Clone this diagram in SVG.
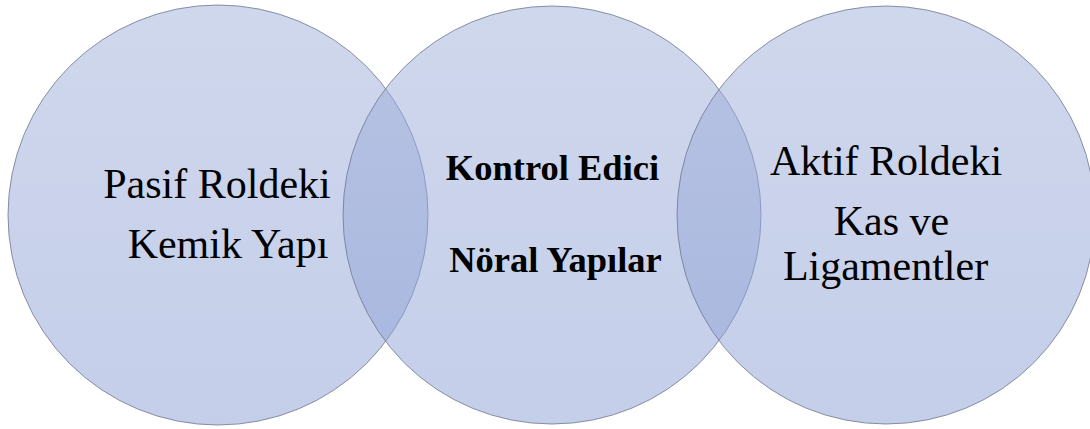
<svg xmlns="http://www.w3.org/2000/svg" width="1090" height="429" viewBox="0 0 1090 429">
<defs>
<linearGradient id="g" x1="0" y1="0" x2="0" y2="1">
<stop offset="0" stop-color="rgb(160,176,218)"/>
<stop offset="1" stop-color="rgb(138,158,212)"/>
</linearGradient>
<style>
.c{fill:url(#g);fill-opacity:0.5;stroke:#6f7890;stroke-opacity:0.8;stroke-width:1}
.t{font-family:'Liberation Serif','Times New Roman',Tinos,'DejaVu Serif',serif;font-size:42px;fill:#000;text-anchor:middle}
.b{font-family:'Liberation Serif','Times New Roman',Tinos,'DejaVu Serif',serif;font-size:36.5px;font-weight:bold;fill:#000;text-anchor:middle}
</style>
</defs>
<rect width="1090" height="429" fill="#fff"/>
<g id="left"><circle class="c" cx="218" cy="215" r="210"/></g>
<g id="middle"><circle class="c" cx="552" cy="215" r="209"/></g>
<g id="right"><circle class="c" cx="886" cy="215" r="209"/></g>
<g id="connectors"></g>
<g id="left-label">
<text class="t" x="217" y="198">Pasif Roldeki</text>
<text class="t" x="228" y="258">Kemik Yapı</text>
</g>
<g id="middle-label">
<text class="b" x="552.5" y="180">Kontrol Edici</text>
<text class="b" x="555.5" y="272">Nöral Yapılar</text>
</g>
<g id="right-label">
<text class="t" x="886" y="175">Aktif Roldeki</text>
<text class="t" x="891.5" y="235">Kas ve</text>
<text class="t" x="885.5" y="280">Ligamentler</text>
</g>
</svg>
